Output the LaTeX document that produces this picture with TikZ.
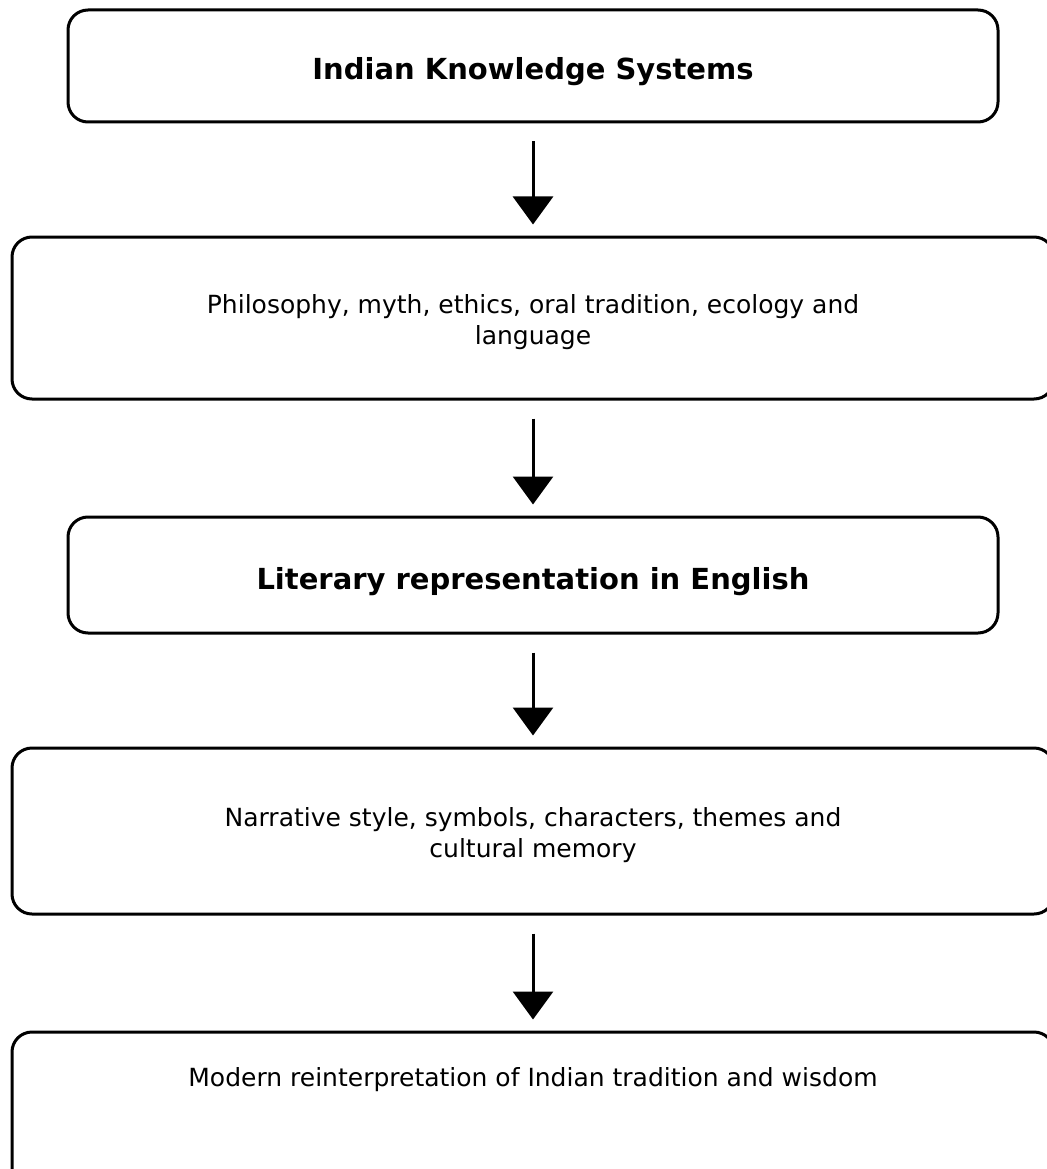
\documentclass[tikz,border=0pt]{standalone}
\usepackage{fontspec}
\setmainfont{DejaVu Sans}
\usetikzlibrary{arrows.meta}
\begin{document}
\begin{tikzpicture}[
  box/.style={draw=black, line width=3pt, rounded corners=20pt, inner sep=0pt},
  bigtxt/.style={font=\fontsize{29}{35}\selectfont\bfseries, align=center},
  smalltxt/.style={font=\fontsize{25}{31}\selectfont, align=center},
  arr/.style={line width=3pt, -{Triangle[width=40pt,length=28pt]}, shorten <=18pt, shorten >=11pt}
]
\useasboundingbox (0pt,0pt) rectangle (1046pt,-1169pt);
\node[box, minimum width=930pt, minimum height=112pt] (b1) at (533pt,-66pt) {};
\node[box, minimum width=1042pt, minimum height=162pt] (b2) at (533pt,-318pt) {};
\node[box, minimum width=930pt, minimum height=116pt] (b3) at (533pt,-575pt) {};
\node[box, minimum width=1042pt, minimum height=166pt] (b4) at (533pt,-831pt) {};
\node[box, minimum width=1042pt, minimum height=166pt] (b5) at (533pt,-1115pt) {};
\node[bigtxt] (t1) at (533pt,-72pt) {Indian Knowledge Systems};
\node[smalltxt] (t2) at (533pt,-322pt) {Philosophy, myth, ethics, oral tradition, ecology and\\language};
\node[bigtxt] (t3) at (533pt,-582pt) {Literary representation in English};
\node[smalltxt] (t4) at (533pt,-835pt) {Narrative style, symbols, characters, themes and\\cultural memory};
\node[smalltxt] (t5) at (533pt,-1080pt) {Modern reinterpretation of Indian tradition and wisdom};
\draw[arr] (b1.south) -- (b2.north);
\draw[arr] (b2.south) -- (b3.north);
\draw[arr] (b3.south) -- (b4.north);
\draw[arr] (b4.south) -- (b5.north);
\end{tikzpicture}
\end{document}
